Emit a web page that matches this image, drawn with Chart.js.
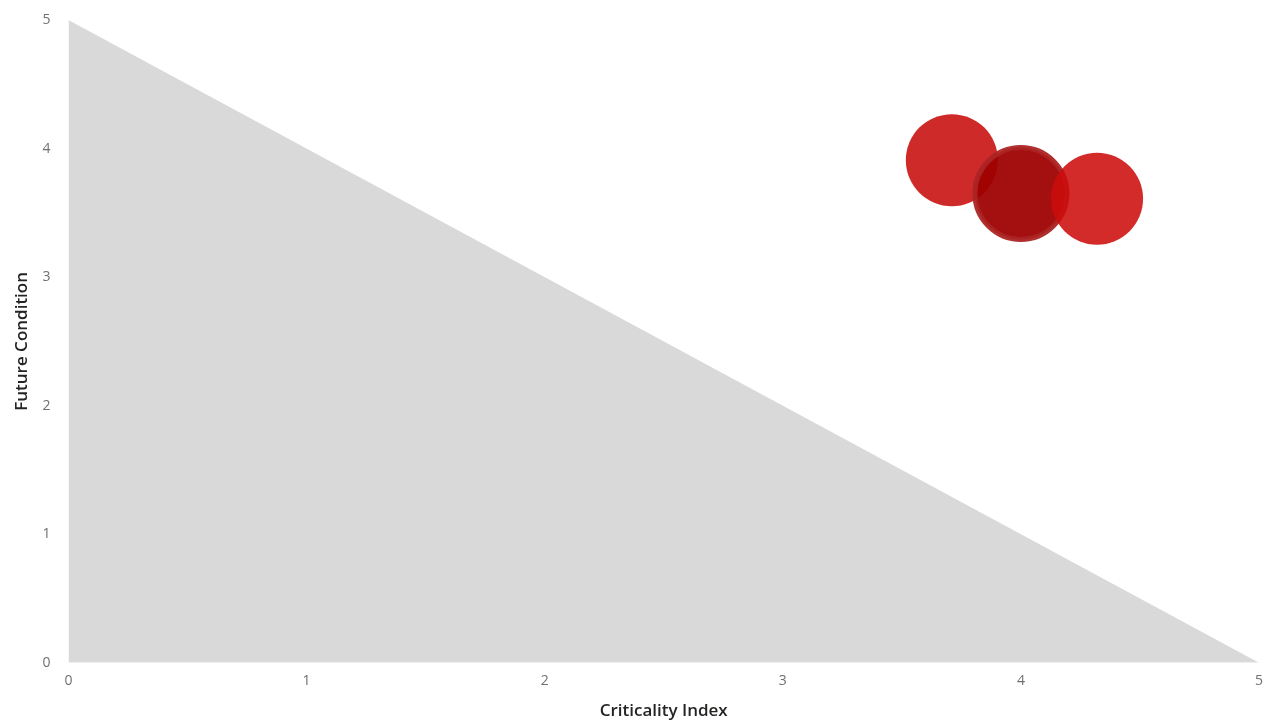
<!DOCTYPE html>
<html>
<head>
<meta charset="utf-8">
<script src="https://cdn.jsdelivr.net/npm/chart.js@4/dist/chart.umd.min.js"></script>
<style>
    html, body { margin: 0; padding: 0; background: #fff; }
    #wrap { width: 1274px; height: 724px; position: relative; }
</style>
</head>
<body>
<div id="wrap"><canvas id="riskChart"></canvas></div>
<script>
// threshold triangle (criticality vs future condition)
const thresholdX = [0, 5];
const thresholdY = [5, 0];

// assets
const criticality = [3.71, 4.0, 4.32];
const futureCondition = [3.91, 3.65, 3.61];
const bubbleColors = ['rgba(202, 24, 24, 0.92)', 'rgba(158, 0, 0, 0.94)', 'rgba(205, 12, 12, 0.88)'];
const bubbleBorders = ['rgba(202, 24, 24, 0)', 'rgba(172, 36, 36, 0.95)', 'rgba(205, 12, 12, 0)'];

const axisTicks = [0, 1, 2, 3, 4, 5];

const tickFont = { family: 'Open Sans', size: 14 };
const titleFont = { family: 'Open Sans', size: 17, weight: '600' };

const triangle = thresholdX.map((x, i) => ({ x: x, y: thresholdY[i] }));

// one dataset per bubble so they stack in order
const bubbleSets = criticality.map((x, i) => ({
    type: 'bubble',
    data: [{ x: x, y: futureCondition[i], r: 46 }],
    backgroundColor: bubbleColors[i],
    borderColor: bubbleBorders[i],
    borderWidth: i === 1 ? 5 : 0,
    order: 3 - i
}));

new Chart(document.getElementById('riskChart'), {
    type: 'scatter',
    data: {
        datasets: [
            {
                type: 'line',
                data: triangle,
                fill: 'origin',
                backgroundColor: '#d9d9d9',
                borderWidth: 0,
                pointRadius: 0,
                tension: 0,
                order: 10
            },
            ...bubbleSets
        ]
    },
    options: {
        responsive: true,
        maintainAspectRatio: false,
        animation: false,
        layout: { autoPadding: false, padding: { top: 20, right: 15, left: 12, bottom: 3 } },
        plugins: {
            legend: { display: false },
            tooltip: { enabled: false }
        },
        scales: {
            x: {
                type: 'linear',
                min: 0,
                max: 5,
                afterBuildTicks: (axis) => { axis.ticks = axisTicks.map(v => ({ value: v })); },
                grid: { display: false },
                border: { display: false },
                ticks: { color: '#707070', font: tickFont, padding: 2, maxRotation: 0 },
                title: { display: true, text: 'Criticality Index', color: '#252423', font: titleFont, padding: { top: 9, bottom: 0 } }
            },
            y: {
                type: 'linear',
                min: 0,
                max: 5,
                afterBuildTicks: (axis) => { axis.ticks = axisTicks.map(v => ({ value: v })); },
                grid: { display: false },
                border: { display: false },
                ticks: { color: '#707070', font: tickFont, padding: 10 },
                title: { display: true, text: 'Future Condition', color: '#252423', font: titleFont, padding: { top: 0, bottom: 0 } }
            }
        }
    }
});
</script>
</body>
</html>
